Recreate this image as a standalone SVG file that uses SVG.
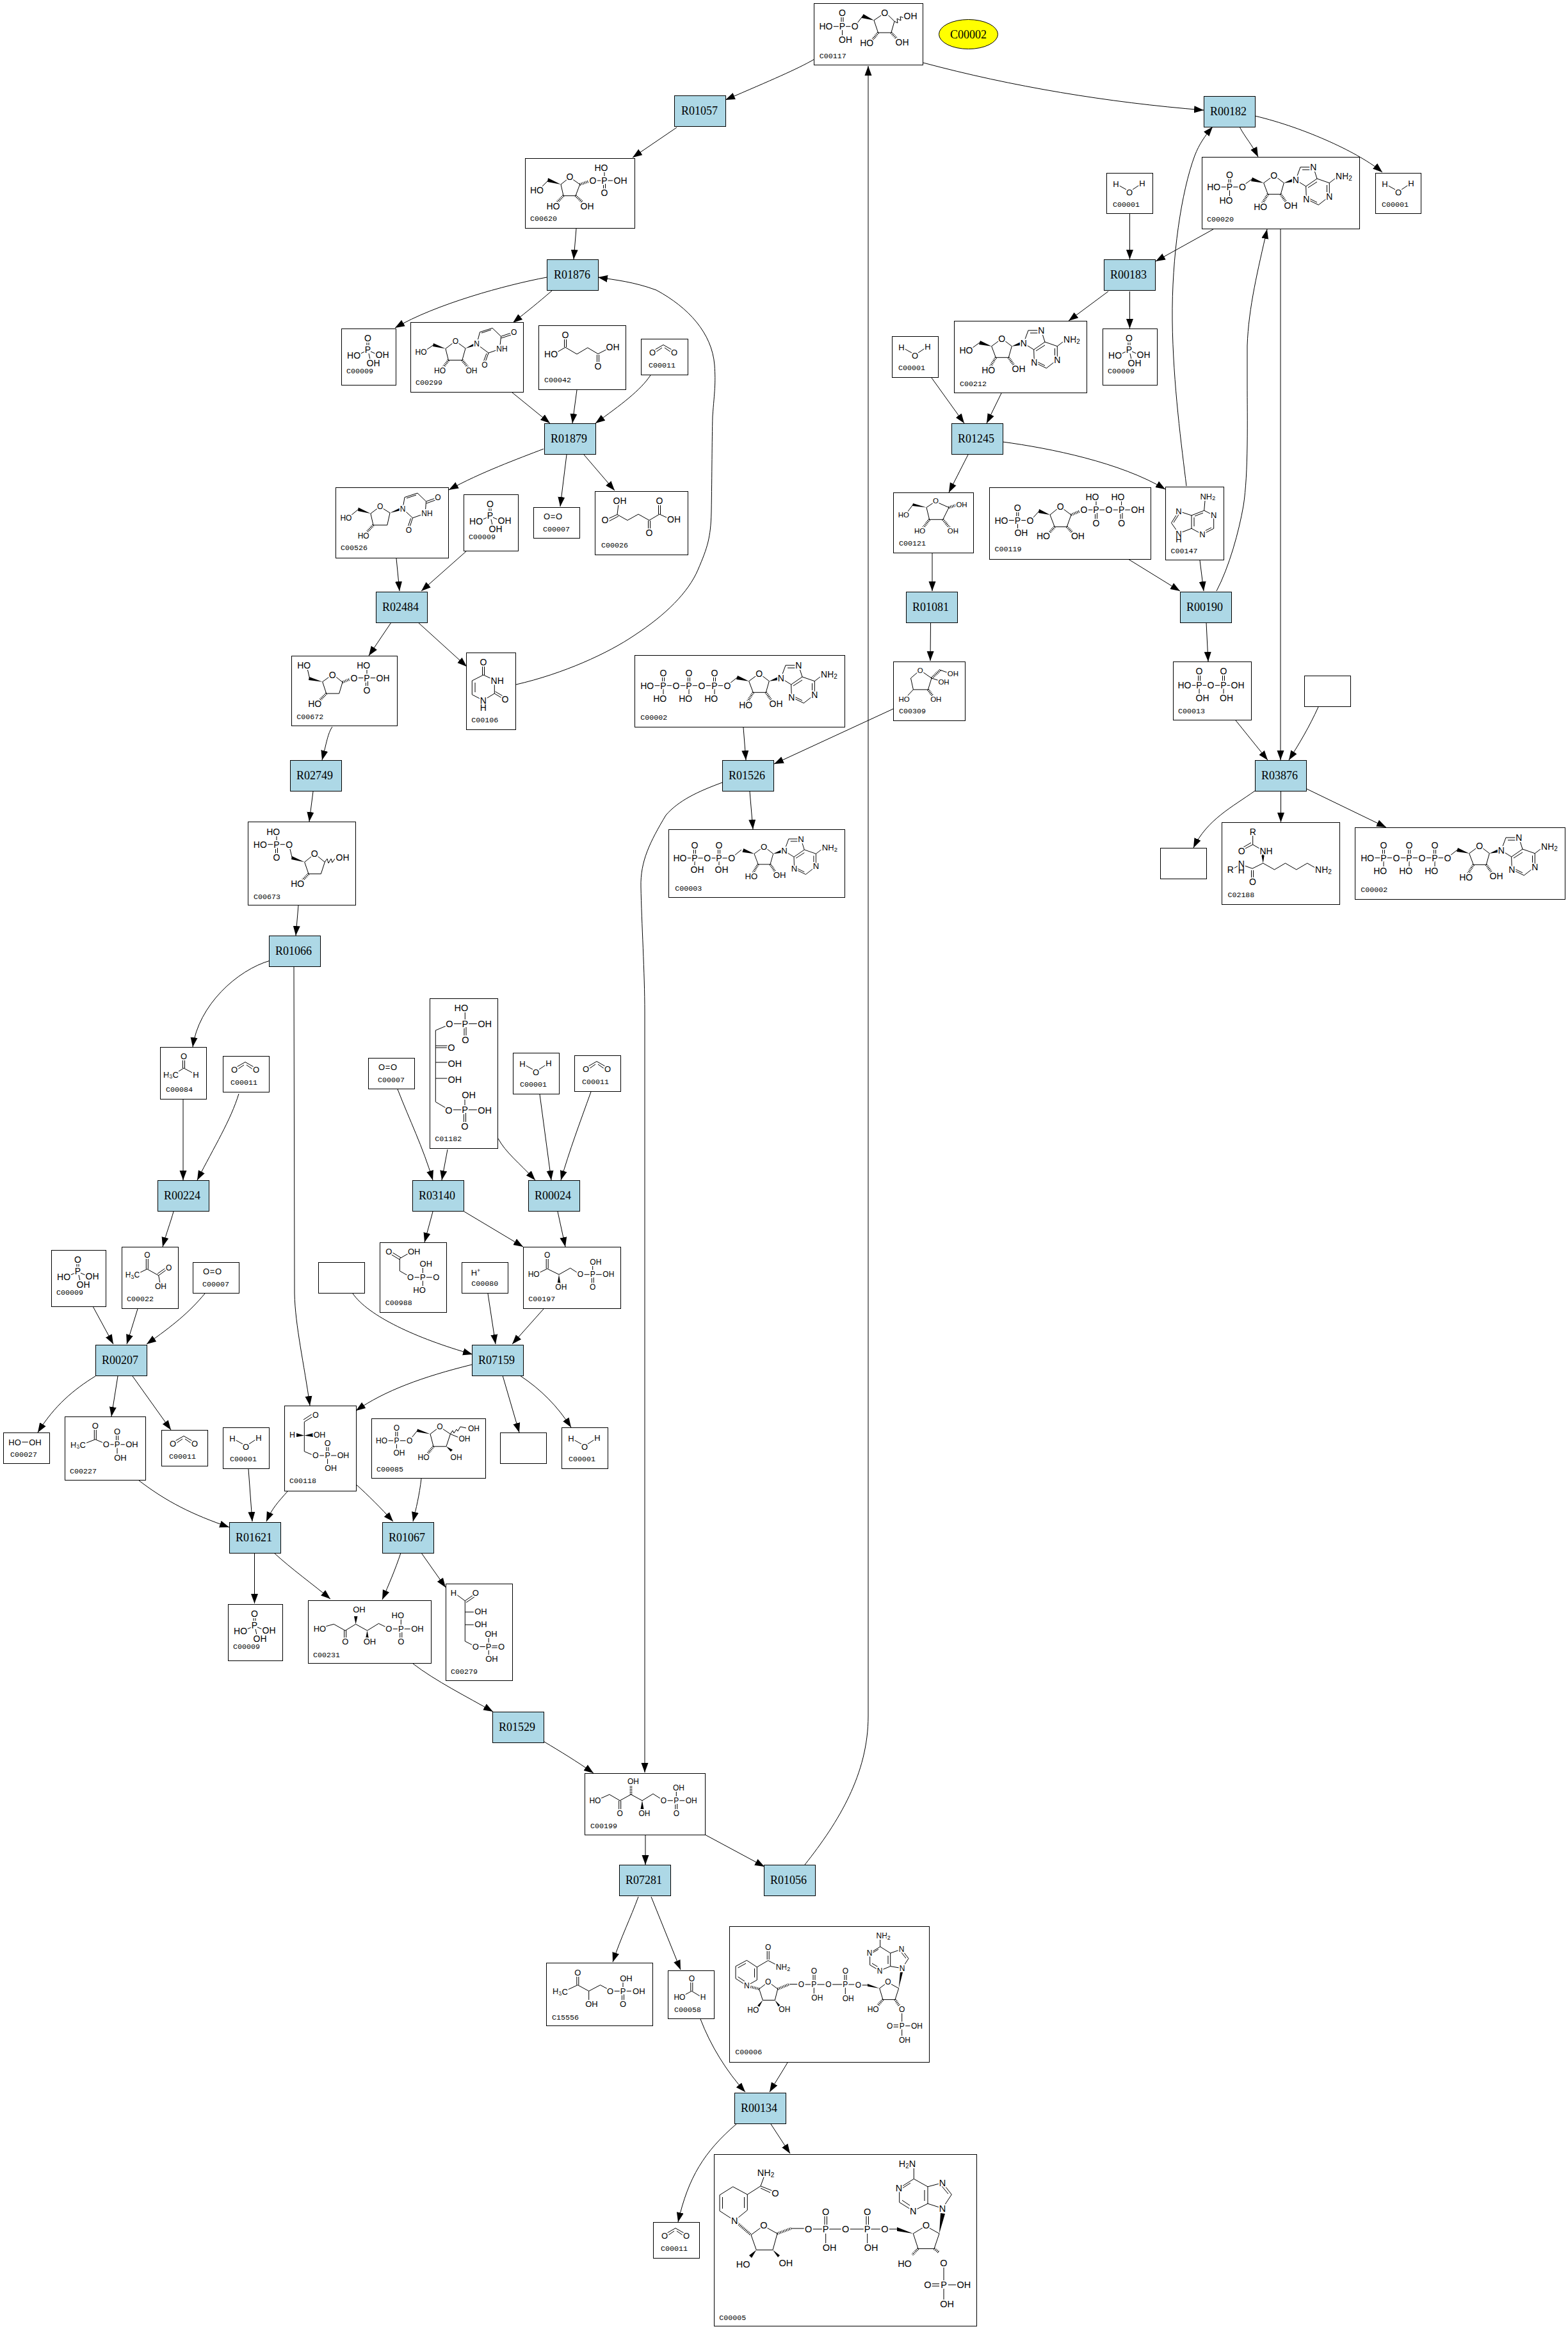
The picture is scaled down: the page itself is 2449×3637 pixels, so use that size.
<svg xmlns="http://www.w3.org/2000/svg" xmlns:xlink="http://www.w3.org/1999/xlink" width="2449" height="3637" viewBox="0 0 2449 3637">
<style>
path{fill:none;stroke:#000;stroke-width:1}
polygon{fill:#000;stroke:none}
.h{stroke-width:4;stroke-dasharray:1 1.5}
.n rect,.r rect{shape-rendering:crispEdges;stroke:#000;stroke-width:1}
.n rect{fill:#fff}
.n text{font-family:"Liberation Sans",Arial,sans-serif;text-anchor:middle;dominant-baseline:central;paint-order:stroke;stroke:#fff;stroke-width:4;stroke-linejoin:round;fill:#000}
.n text.q{stroke:none}
.n text.l{font-family:"Liberation Mono","Courier New",monospace;font-size:11.67px;text-anchor:start;dominant-baseline:auto;stroke:none}
.r rect{fill:#add8e6}
.r text,.e text{font-family:"Liberation Serif","Times New Roman",serif;font-size:18px;fill:#000}
.e ellipse{fill:#ff0;stroke:#000;stroke-width:1}
#edges path{marker-end:url(#a)}
marker path{fill:#000;stroke:none}
</style>
<defs>
<marker id="a" markerUnits="userSpaceOnUse" markerWidth="16" markerHeight="12" refX="15" refY="6" orient="auto"><path d="M0,.5L15,6L0,11.5Z"/></marker>
<g id="ado">
<path d="M178.7,40.7L190.5,32M199,32L210.3,40.7L205.3,58.3H185.3L178.7,40.7M228.7,36L236,16H256.3L262,34L281.3,40.7L290,34M239,20H253M281.3,40.7V61.7L264.3,75L245.3,65.7L244.7,46L228.7,36M277.5,44V58M262,71L250,65M244.7,46L262,34M248,48L262,39"/>
<polygon points="178.7,40.7 159,38 161,32"/><polygon points="210.3,40.7 224,34 225,39"/>
<path class="h" d="M185.3,58.3L177,72M205.3,58.3L214,71"/>
</g>
<path id="water" d="M15,17L31,26M41,26L56,16"/>
<path id="co2" d="M22,17L35,9.5L48,17M23,21L33,14M37,14L47,21"/>
<path id="pi" d="M40,20V28M43,20V28M37,36L28,40M46,36L55,40M43,39L45,48"/>
</defs>
<rect width="2449" height="3637" fill="#fff"/>
<g id="edges">
<path d="M1271,93C1245,108 1205,125 1133,156"/>
<path d="M1057,199L988,246"/>
<path d="M900,357L896,405"/>
<path d="M854,433C790,445 680,475 617,512"/>
<path d="M862,454C840,473 825,485 801,504"/>
<path d="M806,1069C880,1052 950,1020 991,992C1040,960 1075,925 1090,890C1105,855 1110,840 1111,800C1112,740 1112,690 1113,650C1116,610 1118,600 1116,570C1112,520 1075,480 1025,453C990,440 960,437 934,433"/>
<path d="M800,613L859,661"/>
<path d="M901,609L894,661"/>
<path d="M1016,586C1000,610 970,632 930,661"/>
<path d="M849,701C810,716 750,738 701,765"/>
<path d="M885,710L875,791"/>
<path d="M912,710L960,766"/>
<path d="M619,872L624,923"/>
<path d="M728,861L658,923"/>
<path d="M611,972L576,1024"/>
<path d="M653,972L729,1041"/>
<path d="M519,1135C512,1145 510,1160 503,1187"/>
<path d="M489,1236L483,1283"/>
<path d="M466,1414L462,1461"/>
<path d="M422,1500C370,1515 310,1570 301,1635"/>
<path d="M286,1717V1843"/>
<path d="M373,1708C360,1750 335,1790 308,1843"/>
<path d="M271,1892C266,1910 260,1925 254,1947"/>
<path d="M145,2040L177,2099"/>
<path d="M215,2044L198,2099"/>
<path d="M320,2020C295,2050 270,2070 229,2099"/>
<path d="M149,2149C115,2170 85,2195 59,2237"/>
<path d="M184,2149L174,2212"/>
<path d="M207,2149L267,2233"/>
<path d="M217,2312C260,2345 300,2365 358,2385"/>
<path d="M388,2294L394,2376"/>
<path d="M449,2329C435,2345 425,2355 416,2376"/>
<path d="M556,2318C575,2335 595,2355 614,2376"/>
<path d="M658,2309C655,2335 650,2355 645,2376"/>
<path d="M397.500,2425V2504"/>
<path d="M428,2425C455,2450 490,2475 516,2497"/>
<path d="M626,2425C617,2452 607,2475 597,2498"/>
<path d="M658,2425L696,2479"/>
<path d="M645,2598C680,2625 730,2650 770,2673"/>
<path d="M850,2720C875,2735 900,2750 927,2769"/>
<path d="M1128,1222C1090,1236 1060,1250 1040,1273C1015,1315 1000,1345 1001,1385C1002,1440 1007,1520 1007,1580L1007,2768"/>
<path d="M1008,2865V2912"/>
<path d="M1101,2865L1194,2915"/>
<path d="M1257,2912C1310,2845 1356,2770 1356,2680L1356,103"/>
<path d="M997,2962C985,2995 970,3025 957,3064"/>
<path d="M1017,2962L1063,3076"/>
<path d="M1094,3153C1110,3195 1135,3235 1164,3267"/>
<path d="M1230,3221C1220,3238 1212,3250 1202,3267"/>
<path d="M1150,3317C1100,3360 1075,3400 1059,3470"/>
<path d="M1204,3317L1234,3363"/>
<path d="M1442,98C1580,135 1730,160 1880,172"/>
<path d="M1936,198C1945,215 1955,225 1965,245"/>
<path d="M1960,181C2040,200 2125,240 2159,269"/>
<path d="M1764.500,334V405"/>
<path d="M1895,358L1805,408"/>
<path d="M1731,455L1669,501"/>
<path d="M1764.500,455V513"/>
<path d="M1564,614L1541,661"/>
<path d="M1455,590L1506,661"/>
<path d="M1512,710L1482,769"/>
<path d="M1566,690C1640,700 1750,722 1820,764"/>
<path d="M1853,759C1846,700 1832,600 1831,500C1830,400 1845,300 1866,243C1873,225 1882,212 1894,198"/>
<path d="M1762,873L1843,923"/>
<path d="M1874,875L1880,923"/>
<path d="M1900,923C1920,885 1935,830 1942,790C1950,740 1948,650 1948,600L1948,540C1950,480 1965,420 1979,358"/>
<path d="M2000,357V1187"/>
<path d="M1884,972L1887,1033"/>
<path d="M1930,1125L1980,1187"/>
<path d="M2059,1104C2045,1135 2030,1160 2013,1187"/>
<path d="M1960,1235C1925,1260 1885,1280 1864,1324"/>
<path d="M2000.500,1236V1284"/>
<path d="M2041,1232L2165,1292"/>
<path d="M1161,1136L1165,1187"/>
<path d="M1395,1107L1209,1193"/>
<path d="M1171,1236L1176,1295"/>
<path d="M1453.500,972L1453,1032"/>
<path d="M1456,864V923"/>
<path d="M459,1510L460,2020C461,2070 475,2130 484,2195"/>
<path d="M699,1795L690,1843"/>
<path d="M621,1701C640,1750 660,1790 676,1843"/>
<path d="M778,1778C790,1800 810,1815 836,1843"/>
<path d="M843,1709L861,1843"/>
<path d="M923,1705C905,1755 890,1795 876,1843"/>
<path d="M676,1892L663,1940"/>
<path d="M725,1892L817,1947"/>
<path d="M871,1892L883,1947"/>
<path d="M551,2020C575,2055 650,2090 738,2115"/>
<path d="M762,2020L774,2099"/>
<path d="M849,2044L800,2099"/>
<path d="M737,2131C660,2150 600,2172 556,2203"/>
<path d="M785,2148L811,2237"/>
<path d="M812,2148C845,2170 870,2195 892,2229"/>
</g>

<g id="R01057" class="r" transform="translate(1053,149)"><rect width="80" height="48"/><text x="11" y="30">R01057</text></g>
<g id="R01876" class="r" transform="translate(854,405)"><rect width="80" height="48"/><text x="11" y="30">R01876</text></g>
<g id="R01879" class="r" transform="translate(850,661)"><rect width="80" height="48"/><text x="10" y="30">R01879</text></g>
<g id="R02484" class="r" transform="translate(587,924)"><rect width="80" height="48"/><text x="10" y="30">R02484</text></g>
<g id="R02749" class="r" transform="translate(453,1187)"><rect width="80" height="48"/><text x="10" y="30">R02749</text></g>
<g id="R01066" class="r" transform="translate(420,1461)"><rect width="80" height="48"/><text x="10" y="30">R01066</text></g>
<g id="R00224" class="r" transform="translate(246,1843)"><rect width="80" height="48"/><text x="10" y="30">R00224</text></g>
<g id="R03140" class="r" transform="translate(644,1843)"><rect width="80" height="48"/><text x="10" y="30">R03140</text></g>
<g id="R00024" class="r" transform="translate(825,1843)"><rect width="80" height="48"/><text x="10" y="30">R00024</text></g>
<g id="R00207" class="r" transform="translate(149,2100)"><rect width="80" height="48"/><text x="10" y="30">R00207</text></g>
<g id="R07159" class="r" transform="translate(737,2100)"><rect width="80" height="48"/><text x="10" y="30">R07159</text></g>
<g id="R01621" class="r" transform="translate(358,2377)"><rect width="80" height="48"/><text x="10" y="30">R01621</text></g>
<g id="R01067" class="r" transform="translate(597,2377)"><rect width="80" height="48"/><text x="10" y="30">R01067</text></g>
<g id="R01529" class="r" transform="translate(769,2673)"><rect width="80" height="48"/><text x="10" y="30">R01529</text></g>
<g id="R07281" class="r" transform="translate(967,2912)"><rect width="80" height="48"/><text x="10" y="30">R07281</text></g>
<g id="R01056" class="r" transform="translate(1193,2912)"><rect width="80" height="48"/><text x="10" y="30">R01056</text></g>
<g id="R00134" class="r" transform="translate(1147,3268)"><rect width="80" height="48"/><text x="10" y="30">R00134</text></g>
<g id="R01526" class="r" transform="translate(1128,1187)"><rect width="80" height="48"/><text x="10" y="30">R01526</text></g>
<g id="R00182" class="r" transform="translate(1880,150)"><rect width="80" height="48"/><text x="10" y="30">R00182</text></g>
<g id="R00183" class="r" transform="translate(1724,405)"><rect width="80" height="48"/><text x="10" y="30">R00183</text></g>
<g id="R01245" class="r" transform="translate(1486,661)"><rect width="80" height="48"/><text x="10" y="30">R01245</text></g>
<g id="R01081" class="r" transform="translate(1415,924)"><rect width="80" height="48"/><text x="10" y="30">R01081</text></g>
<g id="R00190" class="r" transform="translate(1843,924)"><rect width="80" height="48"/><text x="10" y="30">R00190</text></g>
<g id="R03876" class="r" transform="translate(1960,1187)"><rect width="80" height="48"/><text x="10" y="30">R03876</text></g>
<g id="C00002_seed" class="e"><ellipse cx="1512.500" cy="53.500" rx="46" ry="23"/><text x="1484" y="60">C00002</text></g>

<g id="blank1" class="n" transform="translate(2037,1055)"><rect width="72" height="48"/></g>
<g id="blank2" class="n" transform="translate(1812,1324)"><rect width="72" height="48"/></g>
<g id="blank3" class="n" transform="translate(497,1971)"><rect width="72" height="48"/></g>
<g id="blank4" class="n" transform="translate(781,2237)"><rect width="72" height="48"/></g>

<g id="C00117" class="n" font-size="14" transform="translate(1271,5)"><rect width="170" height="96"/>
<path d="M29,36.300H39M50,36.300H59M43,20V31M46,20V31M44.500,42V52M68,31L76.500,20M94,26.700L106,18.500M115.500,18L126,28.300L120.900,46H100.500L94,26.700M126,28.300L131,31L130,24L136,27L135,21L141,23"/><polygon points="94,26.700 74.500,23 77.500,17"/><path class="h" d="M100.500,46L91,58M120.900,46L131,57"/>
<text x="19" y="36.300">HO</text><text x="44.400" y="36.300">P</text><text x="44.400" y="15">O</text><text x="49.500" y="57">OH</text><text x="64.300" y="36.300">O</text><text x="110.700" y="15">O</text><text x="82.700" y="61.700">HO</text><text x="138" y="61">OH</text><text x="151" y="20">OH</text><text class="l" x="8.700" y="86">C00117</text></g>

<g id="C00620" class="n" font-size="14" transform="translate(820,247)"><rect width="171" height="109"/>
<path d="M25,46L36.700,34.300M56,41L66,33M74.500,33L85.700,41L79,58.700H60L56,41M111,35H119M129,35H139M124,20V30M122.500,40V49M125.500,40V49"/><polygon points="56,41 36,31 35,37"/><path class="h" d="M60,58.700L50,69M79,58.700L90,69M85.700,41L100,36"/>
<text x="18.400" y="50.300">HO</text><text x="70" y="29">O</text><text x="44" y="74.700">HO</text><text x="97" y="74.700">OH</text><text x="106" y="35">O</text><text x="124" y="35">P</text><text x="119" y="15">HO</text><text x="149" y="35">OH</text><text x="124" y="54.300">O</text><text class="l" x="8" y="98">C00620</text></g>

<g id="C00009_1" class="n" font-size="14" transform="translate(533,513)"><rect width="85" height="88"/><use href="#pi"/><text x="41.500" y="15">O</text><text x="41.500" y="33">P</text><text x="19.600" y="41.500">HO</text><text x="64" y="41">OH</text><text x="50" y="53.500">OH</text><text class="l" x="8" y="69.600">C00009</text></g>

<g id="C00299" class="n" font-size="12" transform="translate(641,503)"><rect width="176" height="109"/>
<path d="M24,44L36,35.700M54.900,41.500L66,33M75,33L86,41L80.900,59.400H59.400L54.900,41.500M103.600,34.400L108.500,15.600L128,9.400L141.500,22.300L140,37M141.500,22.300L157,17M142,25L157,20M134,44L122,48.200L103.600,34.400M122,48.200L117,62M119,49L114,62M111,17L126,12"/><polygon points="54.900,41.500 36,33 35,38"/><polygon points="86,41 100,33 101,37"/><path class="h" d="M59.400,59.400L51,71M80.900,59.400L90,71"/>
<text x="16.500" y="47.300">HO</text><text x="70.500" y="29.500">O</text><text x="46" y="76">HO</text><text x="95.500" y="76">OH</text><text x="103.600" y="34.400">N</text><text x="161.600" y="16">O</text><text x="143" y="42.400">NH</text><text x="115.900" y="67">O</text><text class="l" x="8" y="98">C00299</text></g>

<g id="C00042" class="n" font-size="14" transform="translate(841,508)"><rect width="136" height="100"/>
<path d="M40.500,20V34M43.500,20V34M42,34.400L29,42M42,34.400L60,45L76.800,35L93,44.600L106,38M91.500,46V59M94.500,46V59"/>
<text x="42" y="14.700">O</text><text x="19.600" y="44.600">HO</text><text x="116" y="34.400">OH</text><text x="93" y="64.300">O</text><text class="l" x="9" y="88.800">C00042</text></g>

<g id="C00011_1" class="n" font-size="13" transform="translate(1001,529)"><rect width="73" height="56"/><use href="#co2"/><text x="18" y="21.700">O</text><text x="52" y="21.700">O</text><text class="l" x="12" y="45">C00011</text></g>

<g id="C00526" class="n" font-size="12" transform="translate(524,761)"><rect width="176" height="110"/>
<path d="M24,44L35.700,34.400M54.900,41L65.500,33M74,33L85,40L80.800,59H59L54.900,41M105,33.500L108,15.600L128,9L141.500,22L140.500,36M141.500,22L156,17M142,25L156,20M134,43L120.500,47.800L105,33.500M120.500,47.800L116,62M117.500,48.500L113,62M111,17L126,12"/><polygon points="54.900,41 35.700,31.500 35,37"/><polygon points="85,40 101,32 102,36"/><path class="h" d="M59,59L49,70"/>
<text x="16.400" y="47.800">HO</text><text x="69.600" y="29.500">O</text><text x="43.700" y="76">HO</text><text x="105" y="33.500">N</text><text x="160" y="16">O</text><text x="143" y="41">NH</text><text x="114.500" y="67">O</text><text class="l" x="8" y="98">C00526</text></g>

<g id="C00009_2" class="n" font-size="14" transform="translate(724,772)"><rect width="85" height="88"/><use href="#pi"/><text x="41.500" y="15">O</text><text x="41.500" y="33">P</text><text x="19.600" y="41.500">HO</text><text x="64" y="41">OH</text><text x="50" y="53.500">OH</text><text class="l" x="8" y="69.600">C00009</text></g>

<g id="C00007_1" class="n" font-size="13" transform="translate(833,792)"><rect width="72" height="48"/><path d="M26,13H35M26,16.500H35"/><text x="21" y="14.700">O</text><text x="40" y="14.700">O</text><text class="l" x="15" y="37.500">C00007</text></g>

<g id="C00026" class="n" font-size="14" transform="translate(929,767)"><rect width="145" height="99"/>
<path d="M35,36.500L37,20M35,36.500L20,43.500M37,39L22,47M35,36.500L51,45.500L68,36L85,45.500L101,36L114,42M83.500,46V60M86.500,46V60M99.500,20V36M102.500,20V36"/>
<text x="39" y="14.700">OH</text><text x="16" y="45">O</text><text x="85" y="65">O</text><text x="101" y="14.700">O</text><text x="123.600" y="44">OH</text><text class="l" x="10" y="88.400">C00026</text></g>

<g id="C00106" class="n" font-size="14" transform="translate(728,1019)"><rect width="77" height="120"/>
<path d="M25.500,20V35M28.500,20V35M27,35L42,42M44.300,50V64L26.700,74.700L9.300,65.700V44L27,35M44.300,64L56,71M45.500,61L57.500,68M14,47V62"/>
<text x="27" y="14.700">O</text><text x="48.700" y="43.700">NH</text><text x="61" y="73.300">O</text><text x="26.700" y="74.700">N</text><text class="q" x="26.700" y="85.700">H</text><text class="l" x="8.300" y="109">C00106</text></g>

<g id="C00672" class="n" font-size="14" transform="translate(455,1024)"><rect width="165" height="109"/>
<path d="M25,20L28.700,35.700M48.700,40.700L60,32.500M69,32.500L80,41.300L74.700,59H54.700L48.700,40.700M103,34.700H113M123,34.700H133M118,29.700V20M116.500,40V49M119.500,40V49"/><polygon points="48.700,40.700 28,33 27,38"/><path class="h" d="M54.700,59L44,70M80,41.300L93,36"/>
<text x="19.700" y="14.700">HO</text><text x="64.300" y="29.700">O</text><text x="36.700" y="74.700">HO</text><text x="98" y="34.700">O</text><text x="118" y="34.700">P</text><text x="112.700" y="14.700">HO</text><text x="143" y="34.700">OH</text><text x="118" y="54">O</text><text class="l" x="8.300" y="98.700">C00672</text></g>

<g id="C00673" class="n" font-size="14" transform="translate(387,1283)"><rect width="168" height="130"/>
<path d="M45,30V21M29,35.700H40M50,35.700H60M43.500,41V50.500M46.500,41V50.500M65.500,41L69.300,56.700M88.700,63.300L100,54M109,54L120.300,63.300L114.300,81.700H95L88.700,63.300M120.300,63.300L124,58L126,65L130,58L132,64L136,58"/><polygon points="88.700,63.300 69,54 68,59"/><path class="h" d="M95,81.700L85,92"/>
<text x="39.700" y="15.700">HO</text><text x="19.300" y="35.700">HO</text><text x="45" y="35.700">P</text><text x="45" y="55.700">O</text><text x="64.700" y="35.700">O</text><text x="104.300" y="50">O</text><text x="77.700" y="96.700">HO</text><text x="148" y="55.700">OH</text><text class="l" x="9" y="120.700">C00673</text></g>

<g id="C00084" class="n" font-size="13" transform="translate(250,1635)"><rect width="72" height="81"/>
<path d="M35.500,19V33M38.500,19V33M37,33L29,38M37,33L50,40"/><text x="37" y="14">O</text><text x="17" y="43">H<tspan dy="3" font-size="9">3</tspan><tspan dy="-3">C</tspan></text><text x="56" y="43">H</text><text class="l" x="9" y="70">C00084</text></g>

<g id="C00011_2" class="n" font-size="13" transform="translate(348,1649)"><rect width="72" height="56"/><use href="#co2"/><text x="18" y="21.700">O</text><text x="52" y="21.700">O</text><text class="l" x="12" y="45">C00011</text></g>

<g id="C01182" class="n" font-size="14.500" transform="translate(671,1559)"><rect width="106" height="234"/>
<path d="M55.300,34V21M37,39.700H50M60.500,39.700H75M26,43L9.300,50V161.700L25,171M9.300,74H28M9.300,77H28M9.300,100H28M9.300,125H28M54,45V58M57,45V58M36,174H50M60,174H75M55,168V157M53.500,179V193M56.500,179V193"/>
<text x="49.300" y="14.700">HO</text><text x="55.300" y="39.700">P</text><text x="86" y="39.700">OH</text><text x="31" y="39.700">O</text><text x="56" y="64.700">O</text><text x="34" y="77.300">O</text><text x="39.300" y="101.700">OH</text><text x="39.300" y="126.700">OH</text><text x="30" y="174.700">O</text><text x="55" y="173.700">P</text><text x="61" y="150.700">OH</text><text x="86" y="174.700">OH</text><text x="55" y="199.700">O</text><text class="l" x="8.300" y="223.300">C01182</text></g>

<g id="C00007_2" class="n" font-size="13" transform="translate(575,1652)"><rect width="72" height="48"/><path d="M26,13H35M26,16.500H35"/><text x="21" y="14.700">O</text><text x="40" y="14.700">O</text><text class="l" x="15" y="37.500">C00007</text></g>

<g id="C00001_1" class="n" font-size="13" transform="translate(801,1644)"><rect width="72" height="64"/><use href="#water"/><text x="15" y="17">H</text><text x="56" y="16">H</text><text x="36" y="30">O</text><text class="l" x="11" y="53">C00001</text></g>
<g id="C00011_3" class="n" font-size="13" transform="translate(897,1648)"><rect width="72" height="56"/><use href="#co2"/><text x="18" y="21.700">O</text><text x="52" y="21.700">O</text><text class="l" x="12" y="45">C00011</text></g>

<g id="C00197" class="n" font-size="12" transform="translate(817,1947)"><rect width="152" height="96"/>
<path d="M36.200,19V34M39.200,19V34M37.700,34.300L24,41M37.700,34.300L56,43.300L73.700,33.300L85,40.500M94,43.300H104M113,43.300H124M108.700,38V30M107.200,48V58M110.200,48V58"/><polygon points="56,43.300 53.500,58 58.500,58"/>
<text x="37.700" y="13.300">O</text><text x="16.700" y="43.300">HO</text><text x="59.300" y="63.300">OH</text><text x="89.300" y="43.300">O</text><text x="108.700" y="43.300">P</text><text x="113.300" y="24.300">OH</text><text x="133.300" y="43.300">OH</text><text x="108.700" y="62.700">O</text><text class="l" x="8.300" y="85.300">C00197</text></g>

<g id="C00988" class="n" font-size="13" transform="translate(593,1940)"><rect width="104" height="109"/>
<path d="M18,19L31.300,27M20,16L33,24M31.300,25.300L44,18M31.300,25.300V44.700L44,52M52,54.700H62M72,54.700H83M67.300,49V39M67.300,60V70"/>
<text x="14.300" y="14.700">O</text><text x="53.700" y="14.700">OH</text><text x="48" y="54.700">O</text><text x="67.300" y="54.700">P</text><text x="72.300" y="33.700">OH</text><text x="88.300" y="54.700">O</text><text x="62" y="74.700">HO</text><text class="l" x="8.700" y="98">C00988</text></g>

<g id="C00080" class="n" font-size="13" transform="translate(721,1971)"><rect width="72" height="48"/><text x="22" y="16">H<tspan dy="-3" font-size="9">+</tspan></text><text class="l" x="15.300" y="37">C00080</text></g>

<g id="C00009_3" class="n" font-size="14" transform="translate(80,1952)"><rect width="85" height="88"/><use href="#pi"/><text x="41.500" y="15">O</text><text x="41.500" y="33">P</text><text x="19.600" y="41.500">HO</text><text x="64" y="41">OH</text><text x="50" y="53.500">OH</text><text class="l" x="8" y="69.600">C00009</text></g>

<g id="C00022" class="n" font-size="12" transform="translate(190,1947)"><rect width="88" height="96"/>
<path d="M38.300,18V34.800M41.300,18V34.800M39.800,34.800L57.700,44.800L69,36.500M56,42L67.500,34M39.800,34.800L27,41M57.700,44.800L60,57"/>
<text x="39.800" y="13.400">O</text><text x="17" y="43.800">H<tspan dy="3" font-size="9">3</tspan><tspan dy="-3">C</tspan></text><text x="73.600" y="33.300">O</text><text x="61" y="62.200">OH</text><text class="l" x="8" y="84.600">C00022</text></g>

<g id="C00007_3" class="n" font-size="13" transform="translate(301,1971)"><rect width="72" height="48"/><path d="M26,13H35M26,16.500H35"/><text x="21" y="14.700">O</text><text x="40" y="14.700">O</text><text class="l" x="15" y="37.500">C00007</text></g>

<g id="C00027" class="n" font-size="13" transform="translate(5,2237)"><rect width="72" height="48"/><path d="M28,15H40"/><text x="18" y="15">HO</text><text x="50" y="15">OH</text><text class="l" x="11" y="37.800">C00027</text></g>

<g id="C00227" class="n" font-size="13" transform="translate(101,2212)"><rect width="126" height="99"/>
<path d="M46.300,20V35.800M49.300,20V35.800M47.800,35.800L32,42M47.800,35.800L60,41M70,43.800H77M87,43.800H94M80.500,28.500V38.500M83.500,28.500V38.500M82,49V59"/>
<text x="47.800" y="14.400">O</text><text x="21" y="44.300">H<tspan dy="3" font-size="9">3</tspan><tspan dy="-3">C</tspan></text><text x="64.700" y="43.800">O</text><text x="82" y="43.800">P</text><text x="82" y="23.400">O</text><text x="105" y="43.800">OH</text><text x="87" y="64.700">OH</text><text class="l" x="8" y="88.600">C00227</text></g>

<g id="C00011_4" class="n" font-size="13" transform="translate(252,2233)"><rect width="72" height="56"/><use href="#co2"/><text x="18" y="21.700">O</text><text x="52" y="21.700">O</text><text class="l" x="12" y="45">C00011</text></g>
<g id="C00001_2" class="n" font-size="13" transform="translate(348,2229)"><rect width="72" height="64"/><use href="#water"/><text x="15" y="17">H</text><text x="56" y="16">H</text><text x="36" y="30">O</text><text class="l" x="11" y="53">C00001</text></g>

<g id="C00118" class="n" font-size="12.500" transform="translate(444,2195)"><rect width="112" height="133"/>
<path d="M45,17L31.300,25.400V71.600L44,77M43,13.500L30,22M54,78H62M72.600,78H82M66,63.500V73M69,63.500V73M67.600,83V92"/><polygon points="31.300,46.800 19,43 19,49"/><polygon points="31.300,46.800 45,43 45,49"/>
<text x="48.800" y="15">O</text><text x="12.400" y="45.800">H</text><text x="55" y="45.800">OH</text><text x="48.800" y="78">O</text><text x="67.600" y="78">P</text><text x="67.600" y="58.700">O</text><text x="92" y="78">OH</text><text x="72.600" y="97.500">OH</text><text class="l" x="8" y="121.400">C00118</text></g>

<g id="C00085" class="n" font-size="12" transform="translate(580,2215)"><rect width="178" height="93"/>
<path d="M26,34.800H34.400M44.400,34.800H54M37.900,20V30M40.900,20V30M39.400,40V50M63,30L72,19M92,24.400L103,16M111,16L123.400,24.400L117,43.800H97L92,24.400M123.400,24.400L137,30M123.400,24.400L127,19L129,23L133,17L135,20L139,13L148,15"/><polygon points="92,24.400 72,16.500 71,21"/><polygon points="117,43.800 124,52 127,49"/><path class="h" d="M97,43.800L88,55"/>
<text x="16" y="34.800">HO</text><text x="39.400" y="34.800">P</text><text x="39.400" y="15.400">O</text><text x="43.400" y="54.200">OH</text><text x="59.700" y="34.800">O</text><text x="107" y="13">O</text><text x="81.600" y="60.700">HO</text><text x="132.600" y="60.700">OH</text><text x="145.500" y="32.300">OH</text><text x="160" y="16">OH</text><text class="l" x="8" y="82.600">C00085</text></g>

<g id="C00001_3" class="n" font-size="13" transform="translate(877,2229)"><rect width="72" height="64"/><use href="#water"/><text x="15" y="17">H</text><text x="56" y="16">H</text><text x="36" y="30">O</text><text class="l" x="11" y="53">C00001</text></g>

<g id="C00009_4" class="n" font-size="14" transform="translate(356,2505)"><rect width="85" height="88"/><use href="#pi"/><text x="41.500" y="15">O</text><text x="41.500" y="33">P</text><text x="19.600" y="41.500">HO</text><text x="64" y="41">OH</text><text x="50" y="53.500">OH</text><text class="l" x="8" y="69.600">C00009</text></g>

<g id="C00231" class="n" font-size="13" transform="translate(481,2499)"><rect width="192" height="98"/>
<path d="M27,41L40.300,37.300L58.200,47.300L74.600,37.300L92.500,47.300L110.400,36.300L122,42M56.700,47V60M59.700,47V60M131,44.800H140M150,44.800H160M145.300,40V29M143.800,50V60M146.800,50V60"/><polygon points="74.600,37.300 72,25 77.500,25"/><polygon points="92.500,47.300 90,60 95,60"/>
<text x="18.400" y="44.800">HO</text><text x="58.200" y="64.700">O</text><text x="80" y="14.400">OH</text><text x="96.500" y="64.700">OH</text><text x="126.300" y="44.800">O</text><text x="145.300" y="44.800">P</text><text x="140.300" y="23.400">HO</text><text x="171" y="44.800">OH</text><text x="145.300" y="64.700">O</text><text class="l" x="8" y="88.600">C00231</text></g>

<g id="C00279" class="n" font-size="13" transform="translate(696,2473)"><rect width="104" height="151"/>
<path d="M17,17L30.300,26.900L43,18M32,29.500L46,20M30.300,26.900V90L42,96M30.300,44.300H44M30.300,64.200H44M52,98.500H62M72,97H82M72,100H82M67.200,93V83M67.200,104V113"/>
<text x="12.400" y="14.400">H</text><text x="46.800" y="14.400">O</text><text x="55" y="43.300">OH</text><text x="55" y="63.700">OH</text><text x="46.800" y="98.500">O</text><text x="67.200" y="98.500">P</text><text x="71" y="78.600">OH</text><text x="87" y="98.500">O</text><text x="72" y="117.400">OH</text><text class="l" x="8" y="141.300">C00279</text></g>

<g id="C00199" class="n" font-size="12" transform="translate(913,2769)"><rect width="188" height="96"/>
<path d="M24,40L38.800,33.300L55.200,42.800L72.500,33.300L90,42.800L107,32.300L119,40M53.700,43V58M56.700,43V58M128,42.800H138M148,42.800H158M143.300,38V28M141.800,48V58M144.800,48V58"/><polygon points="90,42.800 87.500,56 92.500,56"/><path class="h" d="M72.500,33.300V20"/>
<text x="16.400" y="42.800">HO</text><text x="55.200" y="63.200">O</text><text x="76" y="13">OH</text><text x="93.500" y="63.200">OH</text><text x="123.400" y="42.800">O</text><text x="143.300" y="42.800">P</text><text x="147" y="23">OH</text><text x="166.700" y="42.800">OH</text><text x="143.300" y="63.200">O</text><text class="l" x="9" y="85.600">C00199</text></g>

<g id="C15556" class="n" font-size="13" transform="translate(853,3065)"><rect width="166" height="98"/>
<path d="M47.800,20V34.800M50.800,20V34.800M49.300,34.800L34,42M49.300,34.800L66.700,44.300L84.600,34.800L96,41M66.700,44.300V58M105,44.300H115M125,44.300H133M120,39V29M118.500,49.500V59M121.500,49.500V59"/>
<text x="49.300" y="15">O</text><text x="21.900" y="44.800">H<tspan dy="3" font-size="9">3</tspan><tspan dy="-3">C</tspan></text><text x="71" y="64.700">OH</text><text x="100" y="44.300">O</text><text x="120" y="44.300">P</text><text x="125" y="24.400">OH</text><text x="144.800" y="44.300">OH</text><text x="120" y="64.700">O</text><text class="l" x="9" y="88.600">C15556</text></g>

<g id="C00058" class="n" font-size="12" transform="translate(1043,3077)"><rect width="72" height="75"/>
<path d="M35.800,18V32.300M38.800,18V32.300M37.300,32.300L25,39M37.300,32.300L50,40"/><text x="37.300" y="13.400">O</text><text x="18.400" y="41.800">HO</text><text x="55.200" y="41.800">H</text><text class="l" x="10" y="64.700">C00058</text></g>

<g id="C00006" class="n" font-size="12" transform="translate(1139,3008)"><rect width="312" height="212"/>
<path d="M59.200,38V52M62.200,38V52M60.700,53.600L75,61M60.700,53.600L43.300,63.800V84L27.300,93L10,81.700V62.600L27.300,53.300L43.300,63.800M39.500,66V80M13.500,65L26,58M13.500,79L24,86M46.700,98L57,90M65,90L75.700,98L71.300,115.500H52.300L46.700,98M94,90.600H107M117,91H128M137,91H150M160,91H177M186,91H196.500M131,75V86M134,75V86M180,75V86M183,75V86M132.300,96V107M181.300,96V107M206,92H216.700M234.700,97L244,90M252,90L264.700,97L259,114.600H240L234.700,97M269.700,135V150M255,154H264M255,157.300H264M275,155.700H284M269.700,161V172M270,65.800L280,50.400L269,36L251.700,42V62.600L270,65.800M251.700,62.600L235,69.500L219.700,60.600V42L235.700,32L251.700,42M235.700,32V21M248,46V59M276,50L268,40M223,58L233,64M223,42L233,36"/>
<polygon points="52.300,115.500 44,124 47,126"/><polygon points="71.300,115.500 80,124 77,126"/><polygon points="234.700,97 216,90 216,94"/><polygon points="264.700,97 267,71 271,72"/>
<path class="h" d="M31,94L46.700,98M75.700,98L94,90.600M240,114.600L231,125M259,114.600L266,125"/>
<text x="60.700" y="33.400">O</text><text x="84" y="63.800">NH<tspan dy="3" font-size="9">2</tspan></text><text x="27.300" y="93">N</text><text x="60.700" y="87">O</text><text x="37.300" y="131">HO</text><text x="86.300" y="130">OH</text><text x="112.300" y="91">O</text><text x="132.300" y="91">P</text><text x="132.300" y="70">O</text><text x="137.300" y="111.800">OH</text><text x="155" y="91">O</text><text x="181.300" y="91">P</text><text x="181.300" y="70">O</text><text x="185.700" y="112.600">OH</text><text x="201.300" y="91.900">O</text><text x="248" y="87">O</text><text x="224.700" y="130">HO</text><text x="269.700" y="130">O</text><text x="269.700" y="155.700">P</text><text x="250.700" y="155.700">O</text><text x="293" y="155.700">OH</text><text x="274" y="177.600">OH</text><text x="270" y="65.800">N</text><text x="269" y="36">N</text><text x="235" y="69.500">N</text><text x="219" y="42">N</text><text x="240.700" y="15">NH<tspan dy="3" font-size="9">2</tspan></text><text class="l" x="9.300" y="199.600">C00006</text></g>

<g id="C00011_5" class="n" font-size="13" transform="translate(1020,3470)"><rect width="72" height="56"/><use href="#co2"/><text x="18" y="21.700">O</text><text x="52" y="21.700">O</text><text class="l" x="12" y="45">C00011</text></g>

<g id="C00005" class="n" font-size="14.500" transform="translate(1115,3364)"><rect width="410" height="268"/>
<path d="M73,49.800L78,36M73,49.800L91,57M73,53L88,60M73,49.800L52.300,63V87.400L32.300,103.700L9,88.600V63.800L29.700,50.800L52.300,63M47.500,67V84M13.500,67V85M58,126L73,115M83,115L99,124L92,149.600H66.300L58,126M120.700,116H142M153,117H169M180,117H200M211,117H234M245,117H262M272,117H286M173,95V110M176.500,95V110M238,95V110M241.500,95V110M174.700,124V140M239.700,124V140M311.300,124L326,115M336,115L352,124L344,147.600H319L311.300,124M359,175V198M340,202.500H352M340,206H352M366,204H379M359,210V228M357,84.600L371.300,63L357,44.700L334,50.800V77.200L357,84.600M334,77.200L311.300,88.600L289.700,75.200V52.800L312.300,38.600L334,50.800M312.300,38.600V22M329,56V73M366,62L356,50M294,72L306,80M293,54L307,45"/>
<polygon points="66.300,149.600 55,158 59,162"/><polygon points="92,149.600 103,158 100,161"/><polygon points="311.300,124 286,114 286,120"/><polygon points="352,124 354,92 361,93"/>
<path class="h" d="M37,108L58,126M99,124L120.700,116M319,147.600L310,157M344,147.600L351,153"/>
<text x="81" y="29">NH<tspan dy="3" font-size="10">2</tspan></text><text x="96" y="60.800">O</text><text x="32.300" y="103.700">N</text><text x="78" y="111">O</text><text x="45.700" y="172">HO</text><text x="112.300" y="169.500">OH</text><text x="147.700" y="117">O</text><text x="174.700" y="117">P</text><text x="174.700" y="89.500">O</text><text x="180.700" y="145.600">OH</text><text x="205.700" y="117">O</text><text x="239.700" y="117">P</text><text x="239.700" y="89.500">O</text><text x="245.700" y="146.400">OH</text><text x="267" y="117">O</text><text x="331.300" y="111">O</text><text x="298" y="170.700">HO</text><text x="359" y="169.500">O</text><text x="359" y="204">P</text><text x="334" y="204">O</text><text x="390.300" y="204">OH</text><text x="364" y="233.700">OH</text><text x="357" y="84.600">N</text><text x="357" y="44.700">N</text><text x="311.300" y="88.600">N</text><text x="289" y="52.800">N</text><text x="302" y="15">H<tspan dy="3" font-size="10">2</tspan><tspan dy="-3">N</tspan></text><text class="l" x="8.300" y="259">C00005</text></g>

<g id="C00002_1" class="n" font-size="14" transform="translate(991,1023)"><rect width="328" height="112"/>
<path d="M29,47.700H40M50,47.700H60M70,47.700H80M90,47.700H100M110,47.700H120M130,47.700H140M43.500,32.700V42.700M46.500,32.700V42.700M83.500,32.700V42.700M86.500,32.700V42.700M123.500,32.700V42.700M126.500,32.700V42.700M45,52.700V62.700M85,52.700V62.700M125,52.700V62.700M149,44L160.300,35"/><use href="#ado"/>
<text x="19.700" y="47.700">HO</text><text x="45" y="47.700">P</text><text x="45" y="27.700">O</text><text x="39.700" y="67.700">HO</text><text x="65" y="47.700">O</text><text x="85" y="47.700">P</text><text x="85" y="27.700">O</text><text x="79.700" y="67.700">HO</text><text x="105" y="47.700">O</text><text x="125" y="47.700">P</text><text x="125" y="27.700">O</text><text x="119.700" y="67.700">HO</text><text x="145" y="47.700">O</text>
<text x="173.700" y="77.700">HO</text><text x="221" y="75.700">OH</text><text x="194.700" y="29">O</text><text x="228.700" y="36">N</text><text x="256.300" y="16">N</text><text x="281.300" y="61.700">N</text><text x="245.300" y="65.700">N</text><text x="304" y="30">NH<tspan dy="3" font-size="10">2</tspan></text><text class="l" x="9.300" y="101">C00002</text></g>

<g id="C00002_2" class="n" font-size="14" transform="translate(2116,1292)"><rect width="328" height="112"/>
<path d="M29,47.700H40M50,47.700H60M70,47.700H80M90,47.700H100M110,47.700H120M130,47.700H140M43.500,32.700V42.700M46.500,32.700V42.700M83.500,32.700V42.700M86.500,32.700V42.700M123.500,32.700V42.700M126.500,32.700V42.700M45,52.700V62.700M85,52.700V62.700M125,52.700V62.700M149,44L160.300,35"/><use href="#ado"/>
<text x="19.700" y="47.700">HO</text><text x="45" y="47.700">P</text><text x="45" y="27.700">O</text><text x="39.700" y="67.700">HO</text><text x="65" y="47.700">O</text><text x="85" y="47.700">P</text><text x="85" y="27.700">O</text><text x="79.700" y="67.700">HO</text><text x="105" y="47.700">O</text><text x="125" y="47.700">P</text><text x="125" y="27.700">O</text><text x="119.700" y="67.700">HO</text><text x="145" y="47.700">O</text>
<text x="173.700" y="77.700">HO</text><text x="221" y="75.700">OH</text><text x="194.700" y="29">O</text><text x="228.700" y="36">N</text><text x="256.300" y="16">N</text><text x="281.300" y="61.700">N</text><text x="245.300" y="65.700">N</text><text x="304" y="30">NH<tspan dy="3" font-size="10">2</tspan></text><text class="l" x="9.300" y="101">C00002</text></g>

<g id="C00003" class="n" font-size="14" transform="translate(1044,1295)"><rect width="275" height="106"/>
<path d="M28,45H36M46,45H55.700M65.700,45H74M84,45H93.700M39.500,30V40M42.500,30V40M77.500,30V40M80.500,30V40M41,50V58M79,50V58M103,41L114,32"/>
<text x="18" y="45">HO</text><text x="41" y="45">P</text><text x="41" y="25">O</text><text x="45" y="63">OH</text><text x="60.700" y="45">O</text><text x="79" y="45">P</text><text x="79" y="25">O</text><text x="83" y="63">OH</text><text x="98.700" y="45">O</text>
<g transform="translate(-34,0) scale(.94)"><use href="#ado"/><text x="173.700" y="77.700">HO</text><text x="221" y="75.700">OH</text><text x="194.700" y="29">O</text><text x="228.700" y="36">N</text><text x="256.300" y="16">N</text><text x="281.300" y="61.700">N</text><text x="245.300" y="65.700">N</text><text x="304" y="30">NH<tspan dy="3" font-size="10">2</tspan></text></g><text class="l" x="10.300" y="96">C00003</text></g>

<g id="C00020" class="n" font-size="14" transform="translate(1877,245)"><rect width="246" height="112"/>
<path d="M28,47H38.500M48.500,47H58.500M42,33V42M45,33V42M43.500,52V62.500M67,43L78,35"/>
<text x="18.700" y="47">HO</text><text x="43.500" y="47">P</text><text x="43.500" y="28">O</text><text x="38" y="67.500">HO</text><text x="63.500" y="47">O</text>
<g transform="translate(-82,0)"><use href="#ado"/><text x="173.700" y="77.700">HO</text><text x="221" y="75.700">OH</text><text x="194.700" y="29">O</text><text x="228.700" y="36">N</text><text x="256.300" y="16">N</text><text x="281.300" y="61.700">N</text><text x="245.300" y="65.700">N</text><text x="304" y="30">NH<tspan dy="3" font-size="10">2</tspan></text></g><text class="l" x="8" y="101">C00020</text></g>

<g id="C00001_4" class="n" font-size="13" transform="translate(2148,270)"><rect width="71" height="63"/><use href="#water"/><text x="15" y="17">H</text><text x="56" y="16">H</text><text x="36" y="30">O</text><text class="l" x="10" y="53">C00001</text></g>
<g id="C00001_5" class="n" font-size="13" transform="translate(1728,270)"><rect width="72" height="63"/><use href="#water"/><text x="15" y="17">H</text><text x="56" y="16">H</text><text x="36" y="30">O</text><text class="l" x="10" y="53">C00001</text></g>
<g id="C00001_6" class="n" font-size="13" transform="translate(1393,525)"><rect width="72" height="64"/><use href="#water"/><text x="15" y="17">H</text><text x="56" y="16">H</text><text x="36" y="30">O</text><text class="l" x="10" y="53">C00001</text></g>

<g id="C00212" class="n" font-size="14" transform="translate(1490,501)"><rect width="207" height="112"/>
<path d="M29,42L40,34"/><text x="19" y="46">HO</text>
<g transform="translate(-120,-1)"><use href="#ado"/><text x="173.700" y="77.700">HO</text><text x="221" y="75.700">OH</text><text x="194.700" y="29">O</text><text x="228.700" y="36">N</text><text x="256.300" y="16">N</text><text x="281.300" y="61.700">N</text><text x="245.300" y="65.700">N</text><text x="304" y="30">NH<tspan dy="3" font-size="10">2</tspan></text></g><text class="l" x="9" y="102">C00212</text></g>

<g id="C00009_5" class="n" font-size="14" transform="translate(1722,513)"><rect width="85" height="88"/><use href="#pi"/><text x="41.500" y="15">O</text><text x="41.500" y="33">P</text><text x="19.600" y="41.500">HO</text><text x="64" y="41">OH</text><text x="50" y="53.500">OH</text><text class="l" x="8" y="69.600">C00009</text></g>

<g id="C00121" class="n" font-size="11.500" transform="translate(1395,769)"><rect width="125" height="94"/>
<path d="M22,31L31,19M52,23.500L63,16M70,16L87,23.500L77.700,42.300H56.600L52,23.500"/><polygon points="52,23.500 31,17 30,21"/><path class="h" d="M56.600,42.300L47,55M77.700,42.300L88,55M87,23.500L98,20"/>
<text x="16.400" y="35">HO</text><text x="66.500" y="13.300">O</text><text x="41.600" y="60">HO</text><text x="93.400" y="60">OH</text><text x="107" y="19.400">OH</text><text class="l" x="9" y="82.600">C00121</text></g>

<g id="C00119" class="n" font-size="14" transform="translate(1545,761)"><rect width="252" height="112"/>
<path d="M29,51.500H39M49.500,51.500H59M42.800,36.500V46M45.800,36.500V46M44.500,57V66M69,47L78,37M95,43L106,34M116,34L128,43L121.300,61.700H102.200L95,43M153,35.200H162M172,35.200H182M192,35.200H201.600M211.600,35.200H222M167,30V20M206.600,30V20M165.500,40V50.500M168.500,40V50.500M205,40V50.500M208,40V50.500"/><polygon points="95,43 78,34 77,40"/><path class="h" d="M102.200,61.700L93,72M121.300,61.700L131,72M128,43L142,37"/>
<text x="19" y="51.500">HO</text><text x="44.300" y="51.500">P</text><text x="44.300" y="31.600">O</text><text x="49.900" y="71.400">OH</text><text x="64" y="51.500">O</text><text x="111.200" y="30">O</text><text x="84.500" y="76">HO</text><text x="138.400" y="76">OH</text><text x="148" y="35.200">O</text><text x="167" y="35.200">P</text><text x="161" y="14.800">HO</text><text x="167" y="55.600">O</text><text x="187" y="35.200">O</text><text x="206.600" y="35.200">P</text><text x="201" y="14.800">HO</text><text x="206.600" y="55.600">O</text><text x="232" y="35.200">OH</text><text class="l" x="8.500" y="100">C00119</text></g>

<g id="C00147" class="n" font-size="13" transform="translate(1820,760)"><rect width="91" height="114"/>
<path d="M60.700,37.200L62,22M60.700,37.200L75.700,44.900V65.300L58,74.500L41,65.300V44.900L60.700,37.200M41,65.300L21,73L9.500,56.600L21,38.300L41,44.900M45,48V62M59,41L46,46M72,64L60,70M13,56L22,42"/>
<text x="66.300" y="15.300">NH<tspan dy="3" font-size="9">2</tspan></text><text x="75.700" y="44.900">N</text><text x="58" y="74.500">N</text><text x="21" y="38.300">N</text><text x="21" y="73">N</text><text class="q" x="21" y="82">H</text><text class="l" x="8.500" y="104">C00147</text></g>

<g id="C00309" class="n" font-size="11.500" transform="translate(1395,1033)"><rect width="112" height="92"/>
<path d="M38,17L27.500,26L31.400,43.900H54.500L60,26L47,17M31.400,43.900L22,54M73.600,13.300L84,17M60,26L72,30"/><path class="h" d="M54.500,43.900L62,54M60,26L73.600,13.300"/>
<text x="42.300" y="14.300">O</text><text x="93.400" y="19">OH</text><text x="79" y="32">OH</text><text x="17" y="58.700">HO</text><text x="66.800" y="58.700">OH</text><text class="l" x="9" y="80.600">C00309</text></g>

<g id="C00013" class="n" font-size="14" transform="translate(1832,1033)"><rect width="122" height="91"/>
<path d="M28,37.300H36M46,37.300H54M64,37.300H74M84,37.300H91M39.500,20V32M42.500,20V32M77.500,20V32M80.500,20V32M41,42.300V52M79,42.300V52"/>
<text x="18" y="37.300">HO</text><text x="41" y="37.300">P</text><text x="41" y="15">O</text><text x="46" y="56.700">OH</text><text x="59" y="37.300">O</text><text x="79" y="37.300">P</text><text x="79" y="15">O</text><text x="83.500" y="56.700">OH</text><text x="101" y="37.300">OH</text><text class="l" x="8" y="80.700">C00013</text></g>

<g id="C02188" class="n" font-size="14" transform="translate(1908,1284)"><rect width="184" height="128"/>
<path d="M48.700,21V35L61,42M48.700,35L36,41.500M46,32L34,39M64.700,64L48,72.300L36,68M46.500,75V88M49.500,75V88M64.700,64L82.500,74L99.500,64L116.800,74L133.800,64L146,71M19,72L26,68"/><polygon points="64.700,64 62,50 67,50"/>
<text x="48.700" y="15">R</text><text x="31.200" y="45">O</text><text x="69.600" y="45">NH</text><text x="30.700" y="64.700">N</text><text class="q" x="30.700" y="74.700">H</text><text x="13.900" y="74">R</text><text x="48.400" y="93.300">O</text><text x="159" y="74.300">NH<tspan dy="3" font-size="10">2</tspan></text><text class="l" x="9.400" y="117.300">C02188</text></g>
</svg>
